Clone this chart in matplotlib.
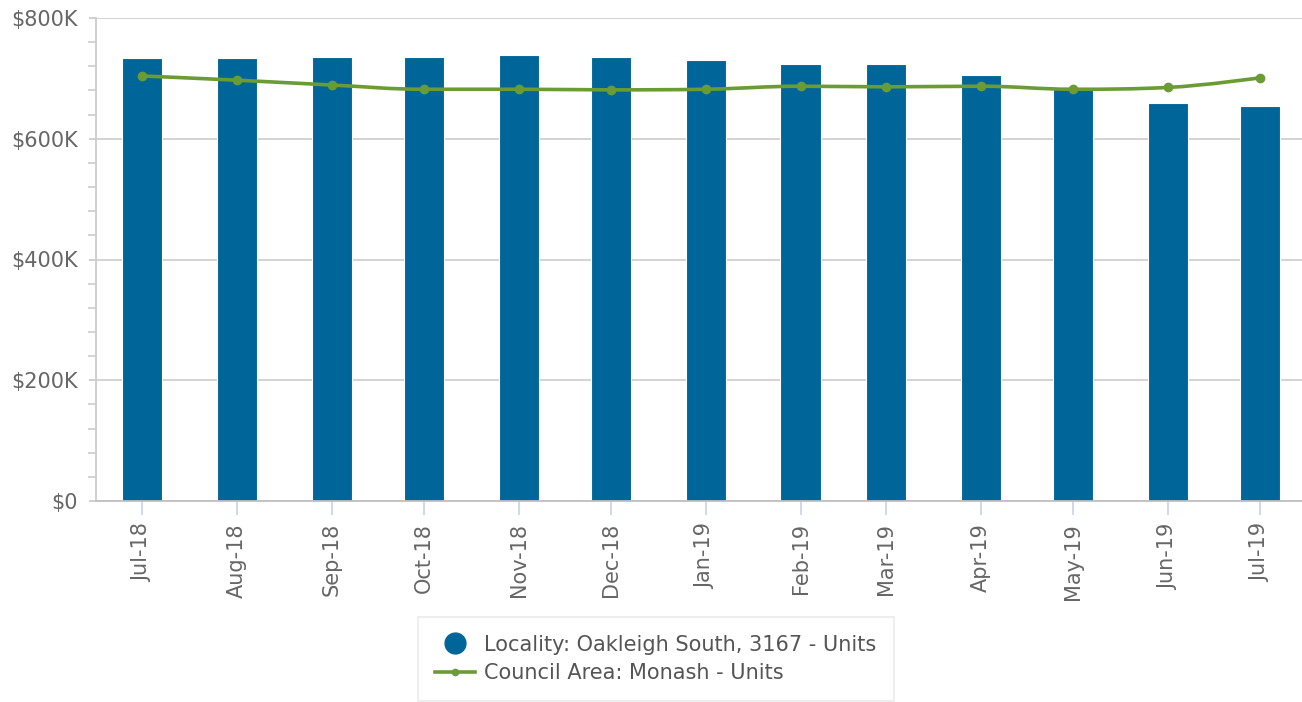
import datetime as dt

import matplotlib

matplotlib.use("Agg")
import matplotlib.dates as mdates
import matplotlib.pyplot as plt
from matplotlib.lines import Line2D
from matplotlib.path import Path
from matplotlib.patches import PathPatch
from matplotlib.ticker import FuncFormatter, MultipleLocator

months = [
    "2018-07", "2018-08", "2018-09", "2018-10", "2018-11", "2018-12",
    "2019-01", "2019-02", "2019-03", "2019-04", "2019-05", "2019-06", "2019-07",
]
locality_units = [733, 733, 736, 736, 739, 736, 730, 723, 723, 705, 684, 660, 654]
council_units = [704, 697, 689, 682, 682, 681, 682, 687, 686, 687, 682, 685, 701]

BAR_COLOR = "#006699"
LINE_COLOR = "#6a9c33"
TEXT_COLOR = "#666666"
FONT_SIZE = 15

plt.rcParams["font.family"] = ["DejaVu Sans"]


def spline_path(xs, ys, smoothing=1.5):
    """Highcharts-style spline through the points, as cubic Beziers."""
    denom = smoothing + 1
    n = len(xs)
    lefts, rights = [], []
    for i in range(n):
        x, y = xs[i], ys[i]
        if i == 0 or i == n - 1:
            lefts.append((x, y))
            rights.append((x, y))
            continue
        lx, ly = xs[i - 1], ys[i - 1]
        nx, ny = xs[i + 1], ys[i + 1]
        lcx = (smoothing * x + lx) / denom
        lcy = (smoothing * y + ly) / denom
        rcx = (smoothing * x + nx) / denom
        rcy = (smoothing * y + ny) / denom
        corr = 0.0
        if rcx != lcx:
            corr = (rcy - lcy) * (rcx - x) / (rcx - lcx) + y - rcy
        lcy += corr
        rcy += corr
        if lcy > ly and lcy > y:
            lcy = max(ly, y)
            rcy = 2 * y - lcy
        elif lcy < ly and lcy < y:
            lcy = min(ly, y)
            rcy = 2 * y - lcy
        if rcy > ny and rcy > y:
            rcy = max(ny, y)
            lcy = 2 * y - rcy
        elif rcy < ny and rcy < y:
            rcy = min(ny, y)
            lcy = 2 * y - rcy
        lefts.append((lcx, lcy))
        rights.append((rcx, rcy))
    verts = [(xs[0], ys[0])]
    codes = [Path.MOVETO]
    for i in range(1, n):
        verts += [rights[i - 1], lefts[i], (xs[i], ys[i])]
        codes += [Path.CURVE4] * 3
    return Path(verts, codes)


dates = [dt.datetime.strptime(m + "-01", "%Y-%m-%d") for m in months]
xnum = mdates.date2num(dates)

fig = plt.figure(figsize=(13.02, 7.02), dpi=100)
ax = fig.add_axes([96 / 1302, 201 / 702, 1206 / 1302, 483 / 702])

ax.bar(xnum, locality_units, width=13.1, color=BAR_COLOR,
       edgecolor="#ffffff", linewidth=0.8, zorder=2)

path = spline_path(list(xnum), council_units)
ax.add_patch(PathPatch(path, facecolor="none", edgecolor=LINE_COLOR,
                       linewidth=2.6, zorder=3, capstyle="round"))
ax.plot(xnum, council_units, linestyle="none", marker="o", markersize=6,
        color=LINE_COLOR, zorder=4)

ax.set_xlim(xnum[0] - 15, xnum[-1] + 13.7)
ax.set_ylim(0, 800)

ax.yaxis.set_major_locator(MultipleLocator(200))
ax.yaxis.set_minor_locator(MultipleLocator(40))
ax.yaxis.set_major_formatter(
    FuncFormatter(lambda v, _: "$0" if v == 0 else f"${v:.0f}K"))
ax.grid(axis="y", which="major", color="#d0d0d0", linewidth=1.3, zorder=0)
ax.set_axisbelow(True)

ax.set_xticks(xnum)
ax.set_xticklabels([d.strftime("%b-%y") for d in dates], rotation=90)

for side in ("top", "right"):
    ax.spines[side].set_visible(False)
ax.spines["left"].set_color("#cccccc")
ax.spines["left"].set_linewidth(1.3)
ax.spines["bottom"].set_color("#c0c0c0")
ax.spines["bottom"].set_linewidth(1.3)

ax.tick_params(axis="y", which="major", length=5, color="#cccccc",
               labelsize=FONT_SIZE, labelcolor=TEXT_COLOR, pad=8, width=1.3)
ax.tick_params(axis="y", which="minor", length=6, color="#cccccc", width=1.2)
ax.tick_params(axis="x", length=10, color="#ccd6eb", width=1.3,
               labelsize=FONT_SIZE, labelcolor=TEXT_COLOR, pad=6)

handles = [
    Line2D([], [], linestyle="none", marker="o", markersize=15,
           color=BAR_COLOR),
    Line2D([], [], color=LINE_COLOR, linewidth=2.6, marker="o",
           markersize=4.5),
]
labels = ["Locality: Oakleigh South, 3167 - Units",
          "Council Area: Monash - Units"]
leg = fig.legend(handles, labels, loc="upper center",
                 bbox_to_anchor=(656 / 1302, 1 - 617 / 702),
                 borderaxespad=0, frameon=True, fancybox=False,
                 fontsize=FONT_SIZE, labelcolor="#555555",
                 handlelength=1.9, handletextpad=0.45,
                 borderpad=0.85, labelspacing=0.4)
leg.get_frame().set_edgecolor("#e8e8e8")
leg.get_frame().set_linewidth(1.3)

fig.savefig("out.png", dpi=100)
